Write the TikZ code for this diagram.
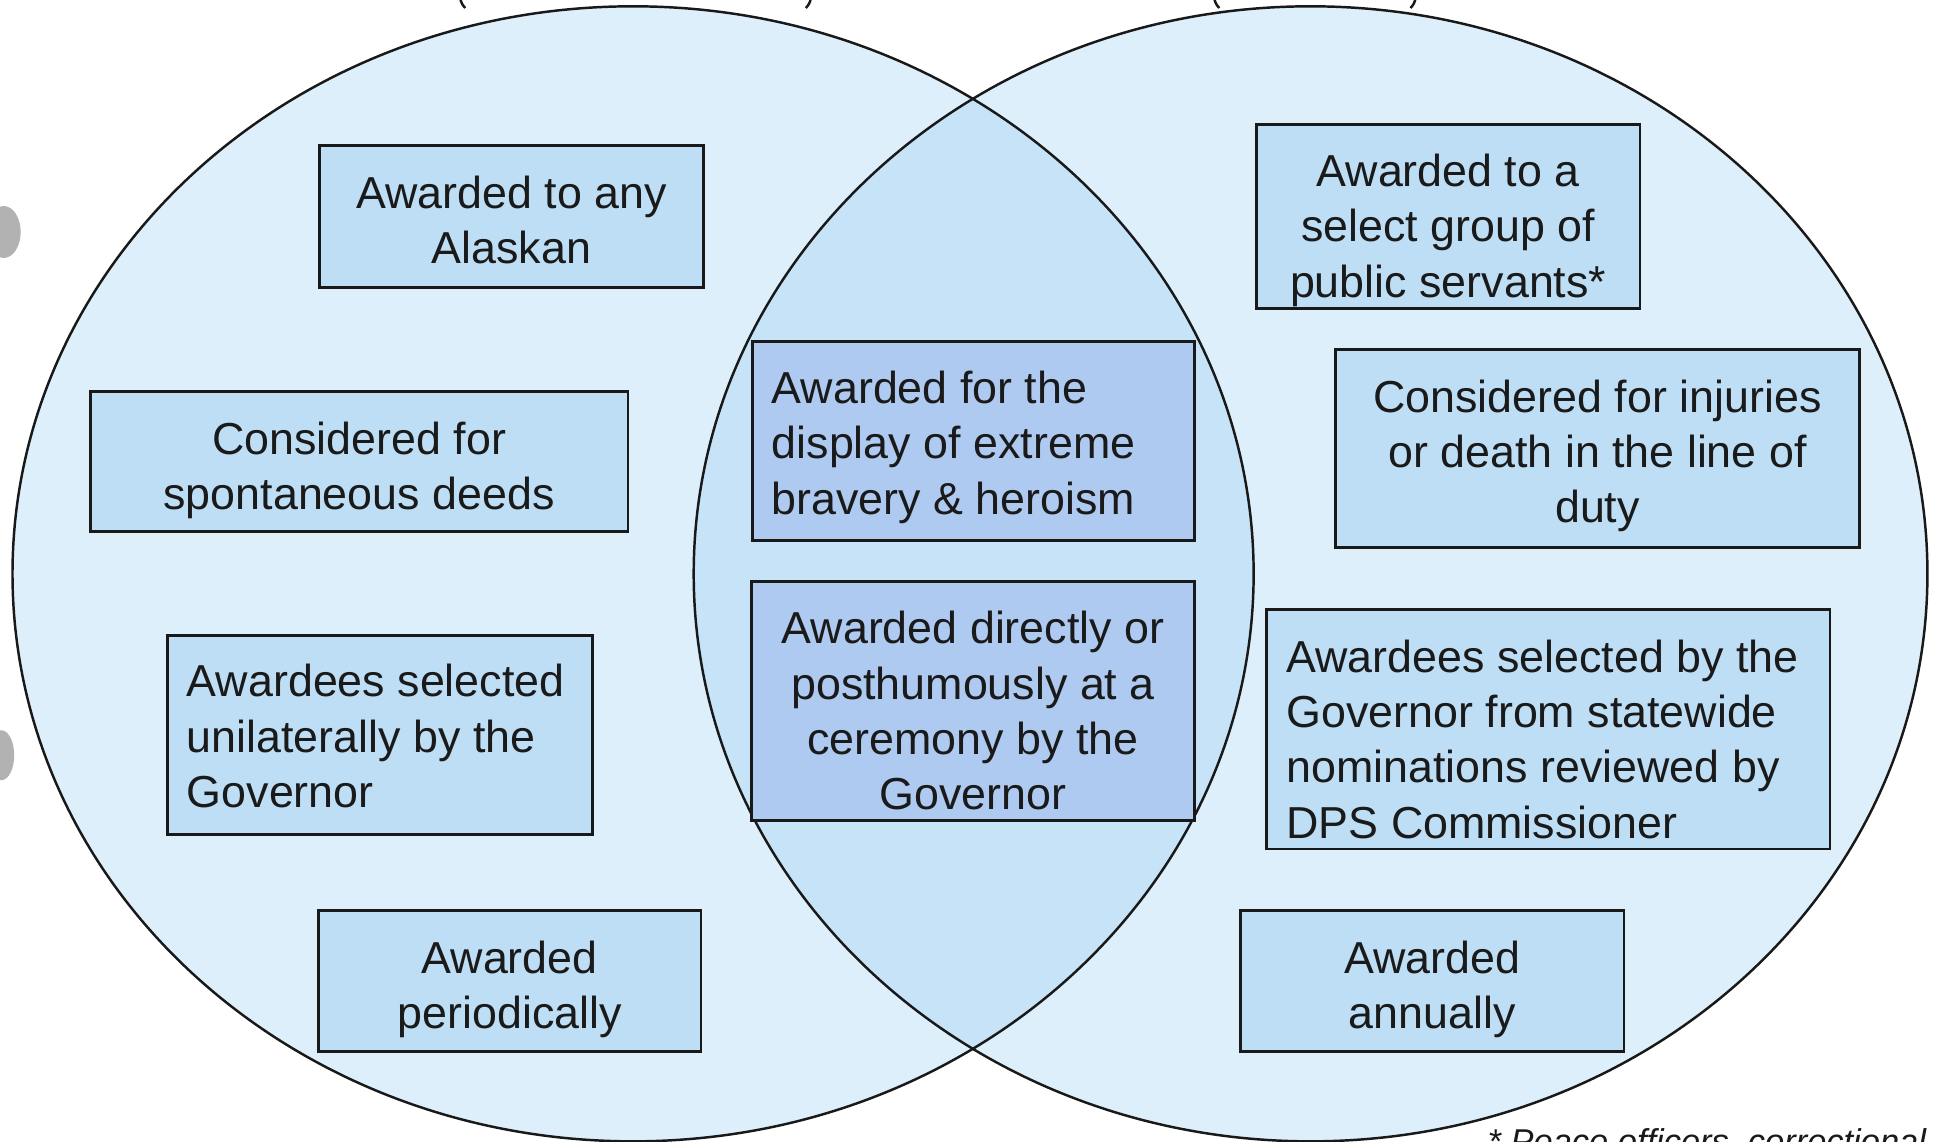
\documentclass[tikz,border=0pt]{standalone}
\usepackage{fontspec}
\setmainfont{Liberation Sans}
\definecolor{circfill}{HTML}{DDEFFA}
\definecolor{lensfill}{HTML}{C6E3F7}
\definecolor{boxfill}{HTML}{BDDEF5}
\definecolor{cboxfill}{HTML}{AECAF1}
\definecolor{txt}{HTML}{1A1A1A}
\begin{document}
\begin{tikzpicture}[x=0.012341cm,y=-0.012341cm,
  outline/.style={draw=black!90,line width=0.7pt},
  box/.style={draw=black!90,line width=0.8pt,fill=boxfill,inner sep=0pt},
  cbox/.style={box,fill=cboxfill},
  lbl/.style={text=txt,font=\fontsize{12.75pt}{15.75pt}\selectfont,align=center,inner sep=0pt},
  llbl/.style={lbl,align=left,anchor=west}]
\useasboundingbox (0,0) rectangle (1568,925.4);
\fill[white] (0,0) rectangle (1568,925.4);
% circles
\fill[circfill] (513,465) ellipse [x radius=6.2075cm, y radius=5.6769cm];
\fill[circfill] (1062,465) ellipse [x radius=6.1705cm, y radius=5.6769cm];
\begin{scope}
  \clip (513,465) ellipse [x radius=6.2075cm, y radius=5.6769cm];
  \fill[lensfill] (1062,465) ellipse [x radius=6.1705cm, y radius=5.6769cm];
\end{scope}
\draw[outline] (513,465) ellipse [x radius=6.2075cm, y radius=5.6769cm];
\draw[outline] (1062,465) ellipse [x radius=6.1705cm, y radius=5.6769cm];
% cut-off title fragments
\draw[outline] (373,-1) to[bend right=15] (377,6.5);
\draw[outline] (657,-1) to[bend left=15] (653,6.5);
\draw[outline] (984,-1) to[bend right=15] (988,6.5);
\draw[outline] (1147,-1) to[bend left=15] (1143,6.5);
% scan artefacts at left edge
\fill[gray!60] (3,188) ellipse [x radius=0.17cm, y radius=0.26cm];
\fill[gray!60] (1,612) ellipse [x radius=0.13cm, y radius=0.25cm];
% left-only boxes
\node[box,minimum width=3.838cm,minimum height=1.419cm] (a1) at (414.5,175.5) {};
\node[lbl] (a1t) at ([yshift=-3*0.012341cm]a1.center) {Awarded to any\\Alaskan};
\node[box,minimum width=5.381cm,minimum height=1.407cm] (a2) at (291,374) {};
\node[lbl] (a2t) at ([yshift=-7*0.012341cm]a2.center) {Considered for\\spontaneous deeds};
\node[box,minimum width=4.245cm,minimum height=1.987cm] (a3) at (308,595.5) {};
\node[llbl] (a3t) at ([xshift=0.197cm,yshift=-1*0.012341cm]a3.west) {Awardees selected\\unilaterally by the\\Governor};
\node[box,minimum width=3.826cm,minimum height=1.407cm] (a4) at (413,795) {};
\node[lbl] (a4t) at ([yshift=-7*0.012341cm]a4.center) {Awarded\\periodically};
% shared boxes
\node[cbox,minimum width=4.418cm,minimum height=1.987cm] (c1) at (789,357.5) {};
\node[llbl] (c1t) at ([xshift=0.197cm,yshift=-5*0.012341cm]c1.west) {Awarded for the\\display of extreme\\bravery \& heroism};
\node[cbox,minimum width=4.430cm,minimum height=2.394cm] (c2) at (788.5,568) {};
\node[lbl] (c2t) at ([yshift=-8*0.012341cm]c2.center) {Awarded directly or\\posthumously at a\\ceremony by the\\Governor};
% right-only boxes
\node[box,minimum width=3.838cm,minimum height=1.839cm] (b1) at (1173.5,175.5) {};
\node[lbl] (b1t) at ([yshift=-11*0.012341cm]b1.center) {Awarded to a\\select group of\\public servants*};
\node[box,minimum width=5.245cm,minimum height=1.987cm] (b2) at (1294.5,363.5) {};
\node[lbl] (b2t) at ([yshift=-6*0.012341cm]b2.center) {Considered for injuries\\or death in the line of\\duty};
\node[box,minimum width=5.640cm,minimum height=2.394cm] (b3) at (1254.5,591) {};
\node[llbl] (b3t) at ([xshift=0.210cm,yshift=-8*0.012341cm]b3.west) {Awardees selected by the\\Governor from statewide\\nominations reviewed by\\DPS Commissioner};
\node[box,minimum width=3.838cm,minimum height=1.407cm] (b4) at (1160.5,795) {};
\node[lbl] (b4t) at ([yshift=-7*0.012341cm]b4.center) {Awarded\\annually};
% footnote (cut off at the bottom, as in the reference)
\node[anchor=base west,inner sep=0pt,text=txt,font=\fontsize{9.8pt}{12pt}\selectfont\itshape] (fn) at (1205,934.5)
  {* Peace officers, correctional};
\end{tikzpicture}
\end{document}
